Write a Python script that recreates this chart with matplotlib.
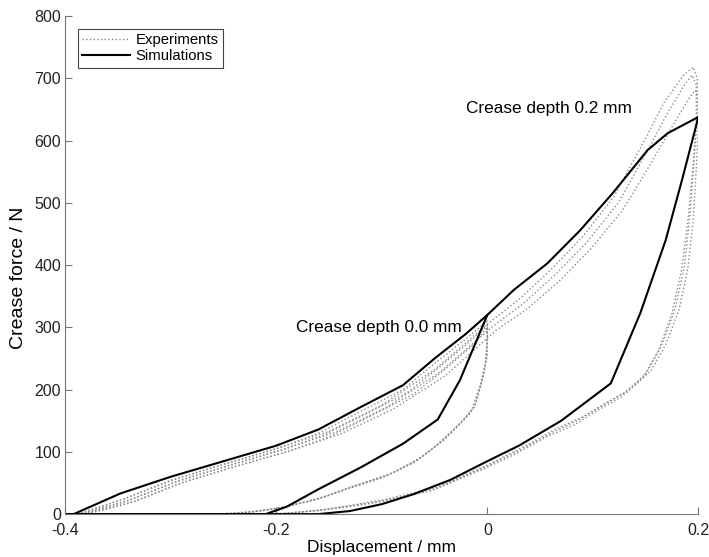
import matplotlib

matplotlib.use("Agg")
import matplotlib.pyplot as plt

plt.rcParams["font.family"] = ["Liberation Sans", "DejaVu Sans"]

# ── simulations (displacement mm, force N) ─────────────────────────────
sim00_x = [-0.40, -0.392, -0.348, -0.30, -0.25, -0.20, -0.16, -0.12, -0.08, -0.05, -0.02, 0.0,
           -0.026, -0.047, -0.08, -0.12, -0.16, -0.19, -0.21, -0.40]
sim00_y = [0, 0, 33, 60, 85, 110, 136, 172, 207, 250, 290, 320,
           215, 152, 113, 75, 40, 12, 0, 0]

sim02_x = [0.0, 0.025, 0.057, 0.088, 0.119, 0.152, 0.171, 0.2,
           0.185, 0.169, 0.145, 0.117, 0.07, 0.03, 0.0, -0.035, -0.07, -0.10, -0.13, -0.16, -0.40]
sim02_y = [320, 360, 403, 456, 516, 585, 612, 638,
           540, 440, 323, 210, 150, 110, 85, 55, 32, 16, 5, 0, 0]

# ── experiments, 0.0 mm crease depth (three runs) ──────────────────────
exp00a_x = [-0.388, -0.37, -0.345, -0.30, -0.25, -0.20, -0.16, -0.12, -0.08, -0.05, -0.02, 0.0,
            0.0, -0.001, -0.005, -0.013, -0.026, -0.045, -0.066, -0.095, -0.13, -0.16, -0.193, -0.22, -0.25]
exp00a_y = [0, 10, 24, 54, 80, 105, 130, 165, 200, 242, 282, 310,
            290, 250, 215, 170, 146, 115, 87, 62, 43, 25, 11, 4, 0]
exp00b_x = [-0.385, -0.365, -0.34, -0.295, -0.245, -0.195, -0.155, -0.115, -0.075, -0.045, -0.016, 0.0,
            0.0, -0.002, -0.007, -0.016, -0.03, -0.05, -0.07, -0.10, -0.135, -0.165, -0.20, -0.23, -0.26]
exp00b_y = [0, 9, 22, 52, 78, 103, 127, 161, 196, 237, 278, 303,
            280, 240, 205, 162, 138, 108, 82, 58, 39, 22, 9, 3, 0]
exp00c_x = [-0.382, -0.36, -0.335, -0.29, -0.24, -0.19, -0.15, -0.11, -0.07, -0.04, -0.012, 0.0,
            0.0, 0.0, -0.004, -0.011, -0.022, -0.04, -0.062, -0.09, -0.125, -0.155, -0.19, -0.215, -0.24]
exp00c_y = [0, 8, 20, 50, 76, 100, 124, 158, 193, 233, 274, 300,
            285, 255, 220, 176, 152, 120, 92, 66, 46, 27, 12, 5, 0]

# ── experiments, 0.2 mm crease depth (three runs) ──────────────────────
exp02a_x = [-0.388, -0.345, -0.30, -0.25, -0.20, -0.15, -0.10, -0.05, 0.0, 0.03, 0.06, 0.09, 0.12,
            0.136, 0.152, 0.167, 0.186, 0.195, 0.199, 0.199, 0.196, 0.192, 0.187, 0.178, 0.165, 0.15,
            0.13, 0.11, 0.085, 0.06, 0.03, 0.0, -0.05, -0.10, -0.13, -0.16, -0.20]
exp02a_y = [0, 24, 54, 80, 105, 133, 175, 232, 305, 345, 392, 445, 510,
            560, 610, 660, 705, 718, 700, 640, 570, 480, 400, 330, 270, 225,
            195, 175, 150, 130, 102, 77, 40, 21, 13, 6, 0]
exp02b_x = [-0.385, -0.34, -0.295, -0.245, -0.195, -0.145, -0.095, -0.045, 0.004, 0.034, 0.064, 0.094, 0.124,
            0.14, 0.156, 0.171, 0.187, 0.194, 0.198, 0.198, 0.195, 0.19, 0.184, 0.175, 0.162, 0.147,
            0.127, 0.106, 0.082, 0.056, 0.026, -0.004, -0.054, -0.104, -0.134, -0.165, -0.205]
exp02b_y = [0, 22, 52, 78, 103, 131, 172, 228, 300, 338, 384, 436, 500,
            548, 597, 645, 690, 705, 690, 630, 560, 470, 392, 322, 262, 218,
            188, 168, 143, 124, 96, 72, 37, 19, 11, 5, 0]
exp02c_x = [-0.382, -0.335, -0.29, -0.24, -0.19, -0.14, -0.09, -0.04, 0.008, 0.038, 0.068, 0.098, 0.128,
            0.144, 0.16, 0.175, 0.19, 0.197, 0.2, 0.2, 0.198, 0.195, 0.19, 0.182, 0.169, 0.155,
            0.135, 0.114, 0.09, 0.064, 0.034, 0.004, -0.046, -0.096, -0.126, -0.156, -0.195]
exp02c_y = [0, 20, 50, 76, 100, 128, 168, 222, 295, 330, 374, 426, 488,
            532, 578, 622, 665, 681, 670, 620, 555, 470, 395, 330, 272, 230,
            200, 180, 156, 136, 108, 82, 44, 24, 15, 7, 0]

experiments = [(exp00a_x, exp00a_y), (exp00b_x, exp00b_y), (exp00c_x, exp00c_y),
               (exp02a_x, exp02a_y), (exp02b_x, exp02b_y), (exp02c_x, exp02c_y)]
simulations = [(sim00_x, sim00_y), (sim02_x, sim02_y)]

x_ticks = [-0.4, -0.2, 0, 0.2]
x_tick_labels = ["-0.4", "-0.2", "0", "0.2"]
y_ticks = [0, 100, 200, 300, 400, 500, 600, 700, 800]

fig = plt.figure(figsize=(7.09, 5.57), dpi=100)
ax = fig.add_axes([0.092, 0.077, 0.893, 0.894])

for i, (xs, ys) in enumerate(experiments):
    ax.plot(xs, ys, color="#8a8a8a", lw=1.0, ls=":",
            label="Experiments" if i == 0 else None)
for i, (xs, ys) in enumerate(simulations):
    ax.plot(xs, ys, color="black", lw=1.5,
            label="Simulations" if i == 0 else None)

ax.text(-0.02, 652, "Crease depth 0.2 mm", fontsize=12.4, va="center", ha="left")
ax.text(-0.181, 300, "Crease depth 0.0 mm", fontsize=12.4, va="center", ha="left")

ax.set_xlim(-0.4, 0.2)
ax.set_ylim(0, 800)
ax.set_xticks(x_ticks)
ax.set_xticklabels(x_tick_labels)
ax.set_yticks(y_ticks)
ax.tick_params(direction="in", length=5, color="#777777", labelsize=11.5, labelcolor="#222222")
ax.tick_params(axis="x", pad=6.5)
ax.tick_params(axis="y", pad=3)
for side in ("top", "right"):
    ax.spines[side].set_visible(False)
for side in ("left", "bottom"):
    ax.spines[side].set_color("#777777")
ax.set_xlabel("Displacement / mm", fontsize=12.5, labelpad=1)
ax.set_ylabel("Crease force / N", fontsize=14)
ax.yaxis.set_label_coords(-0.06, 0.474)

leg = ax.legend(loc="upper left", bbox_to_anchor=(0.008, 0.99), fontsize=10.7,
                fancybox=False, edgecolor="#444444", framealpha=1,
                handlelength=3.2, borderpad=0.3, labelspacing=0.15, handletextpad=0.4)
leg.get_frame().set_linewidth(0.8)

fig.savefig("out.png", dpi=100)
